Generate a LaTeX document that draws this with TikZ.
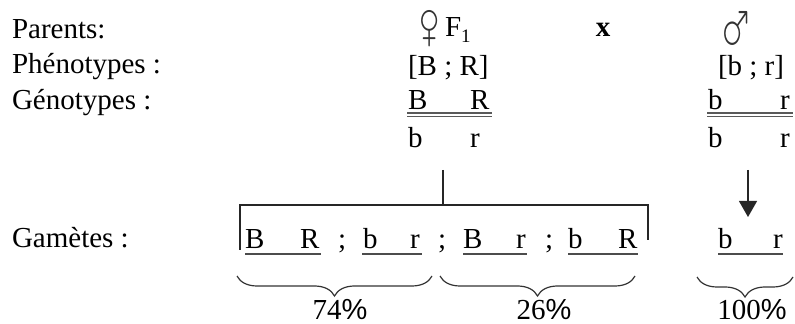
\documentclass[tikz,border=0pt]{standalone}
\usepackage{fontspec}
\usepackage{wasysym}
\setmainfont{Liberation Serif}
\newfontfamily\pctfont{Liberation Sans}
\usetikzlibrary{arrows.meta,decorations.pathreplacing}
\begin{document}
\begin{tikzpicture}[x=0.5pt,y=-0.5pt,
  txt/.style={anchor=base west,inner sep=0pt,outer sep=0pt,font=\fontsize{14.5}{17}\selectfont},
  ctxt/.style={anchor=base,inner sep=0pt,outer sep=0pt,font=\fontsize{14.5}{17}\selectfont},
  sym/.style={anchor=base,inner sep=0pt,outer sep=0pt,text=black!80,font=\fontsize{20}{20}\selectfont},
  gline/.style={draw=black!65,line width=0.65pt},
  ulne/.style={draw=black!70,line width=0.65pt},
  frame/.style={draw=black!85,line width=0.65pt},
  brc/.style={draw=black!80,line width=0.6pt,decorate,decoration={brace,mirror,amplitude=10pt}}]
\useasboundingbox (0,0) rectangle (795,324);
% left labels
\node[txt] (parents) at (12,39) {Parents:};
\node[txt] (pheno) at (12,74) {Phénotypes :};
\node[txt] (geno) at (12,110) {Génotypes :};
\node[txt] (gam) at (12,248) {Gamètes :};
% parents row
\node[sym] (fem) at (430,37) {\smash{\scalebox{0.9}[1.17]{\female}}};
\node[txt] (F1) at (445,37) {F\raisebox{-3pt}{\fontsize{9.5}{10}\selectfont 1}};
\node[ctxt,font=\fontsize{14.5}{17}\selectfont\bfseries] (cross) at (603,37) {x};
\node[sym] (male) at (737,46) {\smash{\scalebox{0.9}[1.32]{\male}}};
% phenotypes
\node[txt] (phF) at (408,76) {[B ; R]};
\node[txt] (phM) at (718,76) {[b ; r]};
% genotypes female
\node[txt] (gF1) at (408,110) {B};
\node[txt] (gF2) at (470,110) {R};
\node[txt] (gF3) at (408,148) {b};
\node[txt] (gF4) at (470,148) {r};
\draw[gline] (407,113) -- (492,113);
\draw[gline] (407,116.5) -- (492,116.5);
% genotypes male
\node[txt] (gM1) at (708,110) {b};
\node[txt] (gM2) at (780,110) {r};
\node[txt] (gM3) at (708,148) {b};
\node[txt] (gM4) at (780,148) {r};
\draw[gline] (707,113) -- (793,113);
\draw[gline] (707,116.5) -- (793,116.5);
% bracket and arrow
\coordinate (vt) at (443,170);
\coordinate (vb) at (443,205);
\coordinate (bl) at (240,250);
\coordinate (br) at (648,240);
\draw[frame] (vt) -- (vb);
\draw[frame] (bl) -- (240,205) -- (648,205) -- (br);
\coordinate (at) at (748,170);
\coordinate (ab) at (748,217);
\draw[frame,-{Triangle[length=8pt,width=9pt]}] (at) -- (ab);
% gametes
\node[txt] (g1a) at (245,249) {B};
\node[txt] (g1b) at (300,249) {R};
\draw[ulne] (245,254) -- (321,254);
\node[txt] (s1) at (338,249) {;};
\node[txt] (g2a) at (363,249) {b};
\node[txt] (g2b) at (410,249) {r};
\draw[ulne] (362,254) -- (422,254);
\node[txt] (s2) at (438,249) {;};
\node[txt] (g3a) at (463,249) {B};
\node[txt] (g3b) at (516,249) {r};
\draw[ulne] (463,254) -- (527,254);
\node[txt] (s3) at (545,249) {;};
\node[txt] (g4a) at (568,249) {b};
\node[txt] (g4b) at (618,249) {R};
\draw[ulne] (568,254) -- (638,254);
\node[txt] (g5a) at (718,249) {b};
\node[txt] (g5b) at (773,249) {r};
\draw[ulne] (718,254) -- (783,254);
% braces
\draw[brc] (237,276) -- (432,276);
\draw[brc] (440,276) -- (635,276);
\draw[brc] (697,277) -- (793,277);
\node[ctxt] (p1) at (340,320) {74{\pctfont\%}};
\node[ctxt] (p2) at (544,320) {26{\pctfont\%}};
\node[ctxt] (p3) at (752,320) {100{\pctfont\%}};
\end{tikzpicture}
\end{document}
